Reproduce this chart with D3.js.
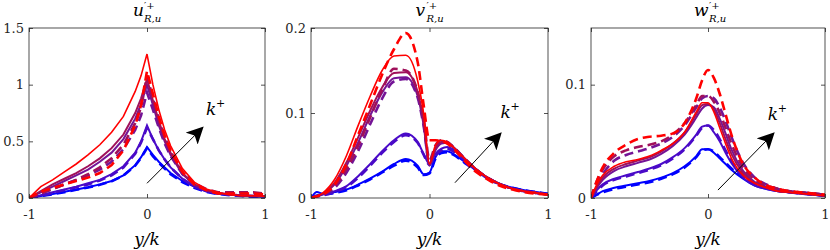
<!DOCTYPE html>
<html>
<head>
<meta charset="utf-8">
<script src="https://cdn.jsdelivr.net/npm/d3@7"></script>
<style>
  body { margin: 0; background: #fff; }
</style>
</head>
<body>
<div id="chart"></div>
<script>
// y/k grid shared by all curves
const xs = [-1,-0.95,-0.9,-0.8,-0.7,-0.6,-0.5,-0.4,-0.3,-0.2,-0.1,-0.05,0,0.05,0.1,0.15,0.2,0.3,0.4,0.5,0.6,0.7,0.8,0.9,1];

// colour index 0 = smallest k+ (blue) ... 4 = largest (red)
const colours = ['#0000ff', '#4a0ac8', '#741496', '#a0105a', '#ff0000'];

// u'+ panel
const uSolid = [
  [0,0.008,0.018,0.035,0.055,0.075,0.095,0.12,0.15,0.2,0.29,0.36,0.45,0.38,0.32,0.27,0.22,0.15,0.1,0.06,0.04,0.03,0.02,0.015,0.01],
  [0,0.01,0.025,0.05,0.075,0.1,0.13,0.16,0.21,0.28,0.4,0.5,0.64,0.52,0.42,0.34,0.27,0.17,0.1,0.06,0.04,0.03,0.02,0.015,0.01],
  [0,0.025,0.05,0.1,0.15,0.2,0.25,0.32,0.4,0.52,0.7,0.83,1.0,0.82,0.64,0.5,0.38,0.21,0.12,0.07,0.04,0.03,0.025,0.02,0.015],
  [0,0.03,0.06,0.12,0.17,0.22,0.28,0.35,0.44,0.56,0.75,0.88,1.05,0.86,0.68,0.52,0.4,0.22,0.12,0.07,0.04,0.03,0.02,0.02,0.015],
  [0,0.05,0.1,0.16,0.23,0.3,0.38,0.47,0.58,0.72,0.94,1.08,1.27,1.0,0.78,0.6,0.46,0.26,0.14,0.08,0.05,0.03,0.02,0.02,0.015]
];
const uDashed = [
  [0,0.008,0.017,0.033,0.052,0.072,0.092,0.117,0.147,0.197,0.285,0.355,0.44,0.37,0.31,0.26,0.21,0.14,0.09,0.055,0.035,0.025,0.018,0.012,0.008],
  [0,0.01,0.02,0.045,0.07,0.095,0.12,0.155,0.2,0.27,0.39,0.49,0.62,0.52,0.42,0.34,0.27,0.17,0.1,0.06,0.04,0.03,0.02,0.015,0.01],
  [0,0.02,0.04,0.08,0.12,0.16,0.2,0.25,0.32,0.43,0.6,0.73,0.93,0.78,0.62,0.48,0.37,0.21,0.12,0.07,0.04,0.04,0.04,0.035,0.03],
  [0,0.02,0.04,0.08,0.12,0.16,0.21,0.27,0.35,0.47,0.66,0.8,1.08,0.88,0.7,0.54,0.41,0.23,0.13,0.08,0.05,0.05,0.05,0.05,0.04],
  [0,0.03,0.055,0.09,0.12,0.15,0.18,0.22,0.29,0.42,0.64,0.82,1.12,0.92,0.72,0.55,0.42,0.23,0.12,0.07,0.04,0.04,0.04,0.04,0.03]
];

// v'+ panel
const vSolid = [
  [0,0.007,0.005,0.007,0.01,0.016,0.023,0.031,0.04,0.046,0.038,0.028,0.03,0.048,0.055,0.055,0.052,0.042,0.032,0.023,0.016,0.012,0.009,0.007,0.005],
  [0,0.002,0.004,0.008,0.014,0.026,0.04,0.055,0.068,0.076,0.066,0.052,0.04,0.052,0.058,0.06,0.057,0.045,0.033,0.023,0.016,0.011,0.008,0.006,0.004],
  [0,0.002,0.005,0.016,0.038,0.066,0.097,0.124,0.141,0.142,0.12,0.086,0.038,0.056,0.064,0.065,0.06,0.046,0.033,0.023,0.016,0.011,0.008,0.006,0.004],
  [0,0.002,0.005,0.018,0.042,0.072,0.103,0.13,0.147,0.148,0.125,0.09,0.04,0.058,0.066,0.066,0.06,0.046,0.033,0.023,0.016,0.011,0.008,0.006,0.004],
  [0,0.002,0.006,0.022,0.05,0.086,0.12,0.15,0.167,0.168,0.138,0.1,0.04,0.062,0.068,0.066,0.06,0.046,0.033,0.023,0.016,0.011,0.008,0.006,0.004]
];
const vDashed = [
  [0,0.003,0.004,0.006,0.009,0.015,0.022,0.03,0.038,0.044,0.036,0.027,0.029,0.046,0.053,0.054,0.051,0.041,0.031,0.022,0.016,0.012,0.009,0.007,0.005],
  [0,0.002,0.003,0.007,0.013,0.024,0.038,0.053,0.066,0.074,0.065,0.051,0.039,0.05,0.056,0.058,0.055,0.044,0.032,0.022,0.016,0.011,0.008,0.006,0.004],
  [0,0.002,0.004,0.012,0.03,0.056,0.087,0.117,0.137,0.14,0.118,0.085,0.04,0.058,0.065,0.065,0.06,0.046,0.033,0.023,0.016,0.011,0.008,0.006,0.004],
  [0,0.002,0.004,0.014,0.034,0.062,0.095,0.127,0.152,0.15,0.125,0.095,0.045,0.062,0.068,0.066,0.06,0.046,0.033,0.023,0.016,0.011,0.008,0.006,0.004],
  [0,0.002,0.004,0.016,0.04,0.075,0.11,0.145,0.175,0.194,0.16,0.11,0.068,0.068,0.067,0.064,0.058,0.043,0.03,0.021,0.014,0.01,0.007,0.005,0.004]
];

// w'+ panel
const wSolid = [
  [0,0.003,0.006,0.009,0.011,0.013,0.015,0.018,0.022,0.028,0.037,0.043,0.043,0.04,0.035,0.03,0.025,0.017,0.011,0.008,0.006,0.005,0.004,0.003,0.002],
  [0,0.007,0.012,0.017,0.02,0.023,0.026,0.03,0.036,0.044,0.056,0.063,0.064,0.058,0.05,0.04,0.031,0.018,0.011,0.008,0.006,0.005,0.004,0.003,0.002],
  [0,0.009,0.016,0.024,0.028,0.031,0.034,0.039,0.046,0.056,0.071,0.079,0.082,0.08,0.07,0.057,0.043,0.024,0.014,0.01,0.007,0.005,0.004,0.003,0.002],
  [0,0.01,0.018,0.026,0.03,0.033,0.036,0.041,0.048,0.058,0.074,0.082,0.083,0.078,0.066,0.052,0.039,0.022,0.013,0.009,0.006,0.005,0.004,0.003,0.002],
  [0,0.012,0.02,0.028,0.032,0.034,0.037,0.042,0.048,0.058,0.076,0.084,0.084,0.076,0.062,0.048,0.035,0.02,0.013,0.009,0.006,0.005,0.004,0.003,0.002]
];
const wDashed = [
  [0,0.003,0.005,0.008,0.01,0.012,0.014,0.017,0.021,0.027,0.036,0.042,0.043,0.041,0.036,0.031,0.026,0.018,0.012,0.009,0.007,0.005,0.004,0.003,0.002],
  [0,0.006,0.011,0.016,0.019,0.022,0.025,0.029,0.035,0.043,0.055,0.062,0.064,0.06,0.052,0.042,0.033,0.02,0.012,0.009,0.007,0.005,0.004,0.003,0.002],
  [0,0.012,0.021,0.033,0.038,0.041,0.044,0.048,0.054,0.064,0.08,0.088,0.09,0.088,0.08,0.068,0.054,0.031,0.018,0.012,0.008,0.006,0.005,0.004,0.003],
  [0,0.015,0.025,0.037,0.042,0.045,0.047,0.05,0.056,0.066,0.082,0.09,0.09,0.085,0.075,0.062,0.048,0.027,0.016,0.011,0.008,0.006,0.005,0.004,0.003],
  [0,0.015,0.027,0.04,0.047,0.052,0.054,0.055,0.057,0.066,0.088,0.104,0.113,0.106,0.092,0.074,0.056,0.03,0.018,0.011,0.008,0.006,0.005,0.004,0.003]
];

const xTicks = [-1, 0, 1];
const uTicks = [0, 0.5, 1, 1.5];
const vTicks = [0, 0.1, 0.2];
const wTicks = [0, 0.1];

// arrow start/end [x, y] in data units, and k+ label position
const uArrow = [[0, 0.13], [0.47, 0.62]], uLabel = [0.5, 0.73];
const vArrow = [[0.215, 0.018], [0.6, 0.076]], vLabel = [0.6, 0.094];
const wArrow = [[0.085, 0.007], [0.56, 0.057]], wLabel = [0.51, 0.069];

const width = 830, height = 250;
const yTop = 28, yBottom = 198;
const serif = 'DejaVu Serif, serif';

const panels = [
  {left: 29, right: 265, ymax: 1.5, ticks: uTicks, solid: uSolid, dashed: uDashed, name: 'u', curve: d3.curveLinear, arrow: uArrow, label: uLabel},
  {left: 311, right: 548, ymax: 0.2, ticks: vTicks, solid: vSolid, dashed: vDashed, name: 'v', curve: d3.curveMonotoneX, arrow: vArrow, label: vLabel},
  {left: 591, right: 825, ymax: 0.15, ticks: wTicks, solid: wSolid, dashed: wDashed, name: 'w', curve: d3.curveMonotoneX, arrow: wArrow, label: wLabel}
];

const svg = d3.select('#chart').append('svg')
  .attr('width', width)
  .attr('height', height)
  .attr('font-family', serif);

const defs = svg.append('defs');
defs.append('marker')
  .attr('id', 'head')
  .attr('viewBox', '0 0 10 10')
  .attr('refX', 9).attr('refY', 5)
  .attr('markerWidth', 17).attr('markerHeight', 17)
  .attr('markerUnits', 'userSpaceOnUse')
  .attr('orient', 'auto')
  .append('path')
  .attr('d', 'M0,0 L10,5 L0,10 L2.5,5 Z')
  .attr('fill', '#000');

const axisCol = '#262626';

panels.forEach(p => {
  const x = d3.scaleLinear().domain([-1, 1]).range([p.left, p.right]);
  const y = d3.scaleLinear().domain([0, p.ymax]).range([yBottom, yTop]);
  const g = svg.append('g');

  // clip so the curves stay in the box
  const clipId = 'clip-' + p.name;
  defs.append('clipPath').attr('id', clipId)
    .append('rect').attr('x', p.left).attr('y', yTop)
    .attr('width', p.right - p.left).attr('height', yBottom - yTop);

  const line = d3.line()
    .x((d, i) => x(xs[i]))
    .y(d => y(d))
    .curve(p.curve);

  const lines = g.append('g').attr('clip-path', `url(#${clipId})`);
  for (let c = 0; c < colours.length; c++) {
    lines.append('path')
      .attr('d', line(p.dashed[c]))
      .attr('fill', 'none')
      .attr('stroke', colours[c])
      .attr('stroke-width', 2.6)
      .attr('stroke-dasharray', '9,5');
    lines.append('path')
      .attr('d', line(p.solid[c]))
      .attr('fill', 'none')
      .attr('stroke', colours[c])
      .attr('stroke-width', c == 4 ? 1.6 : 2);
  }

  // axes, ticks inside on all four sides
  g.append('g').attr('transform', `translate(0,${yBottom})`)
    .call(d3.axisBottom(x).tickValues(xTicks).tickSizeInner(-4).tickSizeOuter(0).tickPadding(12).tickFormat(d => d))
    .call(a => a.select('.domain').remove());
  g.append('g').attr('transform', `translate(0,${yTop})`)
    .call(d3.axisTop(x).tickValues(xTicks).tickSizeInner(-4).tickSizeOuter(0).tickFormat(''))
    .call(a => a.select('.domain').remove());
  g.append('g').attr('transform', `translate(${p.left},0)`)
    .call(d3.axisLeft(y).tickValues(p.ticks).tickSizeInner(-4).tickSizeOuter(0).tickPadding(5).tickFormat(d => d))
    .call(a => a.select('.domain').remove());
  g.append('g').attr('transform', `translate(${p.right},0)`)
    .call(d3.axisRight(y).tickValues(p.ticks).tickSizeInner(-4).tickSizeOuter(0).tickFormat(''))
    .call(a => a.select('.domain').remove());

  // d3 axes put font-family="sans-serif" on their group, override it
  g.selectAll('g').filter(function () { return this.hasAttribute('font-family'); })
    .attr('font-family', serif).attr('font-size', 13);
  g.selectAll('.tick line').attr('stroke', axisCol).attr('stroke-width', 0.8);
  g.selectAll('.tick text').attr('fill', axisCol);

  g.append('rect')
    .attr('x', p.left).attr('y', yTop)
    .attr('width', p.right - p.left).attr('height', yBottom - yTop)
    .attr('fill', 'none').attr('stroke', axisCol).attr('stroke-width', 0.8);

  // title like u'+_{R,u}: base letter, superscript and subscript as separate texts
  const cx = (p.left + p.right) / 2;
  const tx = cx - 14;
  const w = p.name == 'w' ? 15 : 11;
  g.append('text').attr('x', tx).attr('y', 16)
    .attr('font-size', 17).attr('font-style', 'italic')
    .text(p.name);
  g.append('text').attr('x', tx + w).attr('y', 9)
    .attr('font-size', 10)
    .text('\u2032+');
  g.append('text').attr('x', tx + w).attr('y', 22)
    .attr('font-size', 10).attr('font-style', 'italic')
    .text('R,u');

  // x label
  g.append('text').attr('x', cx).attr('y', 245)
    .attr('text-anchor', 'middle')
    .attr('font-size', 17).attr('font-style', 'italic')
    .text('y/k');

  // k+ arrow
  g.append('line')
    .attr('x1', x(p.arrow[0][0])).attr('y1', y(p.arrow[0][1]))
    .attr('x2', x(p.arrow[1][0])).attr('y2', y(p.arrow[1][1]))
    .attr('stroke', '#000').attr('stroke-width', 1)
    .attr('marker-end', 'url(#head)');
  g.append('text').attr('x', x(p.label[0])).attr('y', y(p.label[1]))
    .attr('font-size', 17).attr('font-style', 'italic')
    .text('k');
  g.append('text').attr('x', x(p.label[0]) + 10).attr('y', y(p.label[1]) - 8)
    .attr('font-size', 11)
    .text('+');
});
</script>
</body>
</html>
